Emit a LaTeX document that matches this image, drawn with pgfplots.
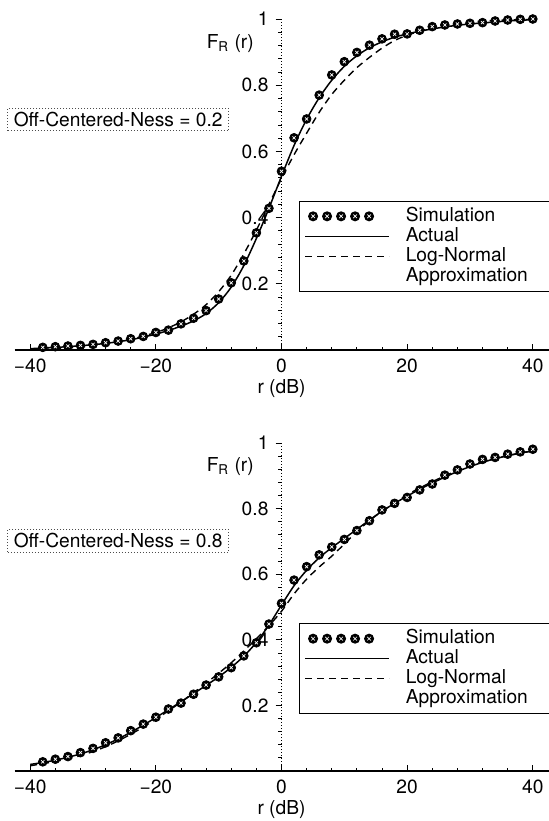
\documentclass[border=0pt]{standalone}
\usepackage{fontspec}
\setmainfont{TeX Gyre Heros}
\usepackage{pgfplots}
\usepackage{pgfplotstable}
\pgfplotsset{compat=1.18}

% ---- top panel (off-centered-ness 0.2) ----
\pgfplotstableread{
x y
-38 0.008
-36 0.010
-34 0.012
-32 0.014
-30 0.017
-28 0.022
-26 0.027
-24 0.034
-22 0.041
-20 0.053
-18 0.060
-16 0.079
-14 0.096
-12 0.119
-10 0.154
-8 0.203
-6 0.269
-4 0.354
-2 0.428
0 0.540
2 0.641
4 0.698
6 0.770
8 0.831
10 0.871
12 0.899
14 0.921
16 0.940
18 0.954
20 0.955
22 0.966
24 0.977
26 0.982
28 0.985
30 0.987
32 0.989
34 0.994
36 0.997
38 0.999
40 1.000
}\topsim

\pgfplotstableread{
x y
-40 0.004
-38 0.006
-36 0.008
-34 0.010
-32 0.013
-30 0.016
-28 0.020
-26 0.025
-24 0.031
-22 0.039
-20 0.048
-18 0.059
-16 0.072
-14 0.088
-12 0.110
-10 0.143
-8 0.190
-6 0.255
-4 0.337
-2 0.428
0 0.525
2 0.618
4 0.697
6 0.762
8 0.815
10 0.857
12 0.889
14 0.913
16 0.931
18 0.945
20 0.955
22 0.963
24 0.970
26 0.976
28 0.981
30 0.985
32 0.988
34 0.991
36 0.994
38 0.996
40 0.998
}\topact

\pgfplotstableread{
x y
-40 0.001
-36 0.004
-32 0.009
-28 0.018
-24 0.032
-20 0.053
-18 0.067
-16 0.085
-14 0.108
-12 0.137
-10 0.176
-8 0.226
-6 0.290
-4 0.362
-2 0.440
0 0.518
2 0.590
4 0.655
6 0.718
8 0.772
10 0.815
12 0.853
14 0.884
16 0.912
18 0.935
20 0.951
22 0.963
24 0.974
28 0.987
32 0.994
36 0.997
40 0.999
}\toplog

% ---- bottom panel (off-centered-ness 0.8) ----
\pgfplotstableread{
x y
-38 0.028
-36 0.036
-34 0.044
-32 0.056
-30 0.069
-28 0.086
-26 0.101
-24 0.123
-22 0.143
-20 0.164
-18 0.189
-16 0.207
-14 0.234
-12 0.262
-10 0.287
-8 0.315
-6 0.351
-4 0.391
-2 0.448
0 0.511
2 0.582
4 0.623
6 0.659
8 0.683
10 0.706
12 0.733
14 0.763
16 0.796
18 0.816
20 0.834
22 0.857
24 0.875
26 0.902
28 0.918
30 0.936
32 0.950
34 0.956
36 0.966
38 0.973
40 0.981
}\botsim

\pgfplotstableread{
x y
-40 0.020
-38 0.026
-36 0.033
-34 0.042
-32 0.052
-30 0.065
-28 0.080
-26 0.098
-24 0.118
-22 0.140
-20 0.163
-18 0.187
-16 0.211
-14 0.236
-12 0.261
-10 0.287
-8 0.316
-6 0.350
-4 0.392
-2 0.445
0 0.506
2 0.565
4 0.612
6 0.650
8 0.681
10 0.709
12 0.737
14 0.765
16 0.792
18 0.816
20 0.838
22 0.859
24 0.878
26 0.896
28 0.913
30 0.928
32 0.941
34 0.952
36 0.961
38 0.969
40 0.976
}\botact

\pgfplotstableread{
x y
-40 0.016
-36 0.029
-32 0.047
-28 0.074
-24 0.112
-20 0.158
-16 0.210
-12 0.268
-10 0.298
-8 0.330
-6 0.366
-4 0.403
-2 0.443
0 0.487
2 0.540
4 0.585
6 0.622
8 0.655
10 0.692
12 0.730
14 0.763
16 0.792
20 0.842
24 0.882
28 0.916
32 0.943
36 0.962
40 0.976
}\botlog

\newcommand{\lbl}{\fontsize{9.6}{11}\selectfont}

\pgfplotsset{
  cdfaxis/.style={
    scale only axis, width=267pt,
    anchor=south west,
    axis lines=middle, axis line style={-},
    x axis line style={line width=0.6pt},
    y axis line style={densely dotted, line width=0.5pt},
    xmin=-42.5, xmax=42.5, ymin=0, ymax=1, enlargelimits=false,
    clip=false,
    xtick={-40,-20,0,20,40}, xticklabels={−40,−20,0,20,40},
    minor x tick num=4,
    ytick={0,0.2,0.4,0.6,0.8,1}, yticklabels={,0.2,0.4,0.6,0.8,1},
    minor y tick num=4,
    hide obscured x ticks=false,
    xtick align=inside, ytick align=outside,
    major tick length=3pt, minor tick length=1.6pt,
    tick style={black, line width=0.4pt},
    every tick label/.append style={font=\lbl},
    xticklabel style={yshift=-1pt},
    xlabel={r (dB)},
    xlabel style={at={(axis description cs:0.5,0)}, anchor=center, yshift=-19.5pt, font=\lbl},
    legend cell align=left,
    legend style={at={(axis cs:2.75,0.451)}, anchor=north west,
      draw=black, line width=0.6pt, font=\lbl,
      inner xsep=2.5pt, inner ysep=2.5pt, row sep=0pt,
      nodes={inner sep=0.5pt, text height=7pt, text depth=2pt},
      /tikz/every odd column/.append style={column sep=7.5pt}},
  },
  simimg/.style={legend image code/.code={
      \path (0pt,0pt) (42pt,0pt);
      \foreach \k in {4,11,18,25,32}{
        \fill[black] (\k pt,0pt) circle (2.2pt);
        \draw[white, line width=0.35pt] (\k pt-0.9pt,-0.9pt)--(\k pt+0.9pt,0.9pt)
          (\k pt-0.9pt,0.9pt)--(\k pt+0.9pt,-0.9pt);}}},
  actimg/.style={legend image code/.code={
      \draw[black, line width=0.7pt] (0pt,0pt) -- (42pt,0pt);}},
  logimg/.style={legend image code/.code={
      \draw[black, line width=0.7pt, dash pattern=on 3.5pt off 2.5pt] (0pt,0pt) -- (42pt,0pt);}},
  actline/.style={black, line width=0.75pt, smooth, no marks, forget plot},
  logline/.style={black, line width=0.7pt, dash pattern=on 3.5pt off 2.5pt, smooth, no marks, forget plot},
  simdot/.style={only marks, mark=*, mark size=2.2pt, mark options={fill=black, draw=black}, forget plot},
  simx/.style={only marks, mark=x, mark size=1.1pt, mark options={white, line width=0.35pt}, forget plot},
}

\begin{document}
\begin{tikzpicture}
\useasboundingbox (0,0) rectangle (274pt,410.5pt);

\begin{axis}[cdfaxis, at={(7.25pt,235.5pt)}, height=165.5pt]
\addplot[logline] table {\toplog};
\addplot[actline] table {\topact};
\addplot[simdot] table {\topsim};
\addplot[simx] table {\topsim};
\addlegendimage{simimg}\addlegendentry{Simulation}
\addlegendimage{actimg}\addlegendentry{Actual}
\addlegendimage{logimg}\addlegendentry{Log-Normal}
\addlegendimage{empty legend}\addlegendentry{Approximation\hspace*{20pt}}
\node[anchor=east, font=\lbl] at (axis cs:-3.3,0.927) {F\textsubscript{R} (r)};
\node[draw=black!70, densely dotted, line width=0.5pt, inner xsep=3pt, inner ysep=2pt, font=\lbl]
  at (axis cs:-26,0.696) {Off-Centered-Ness = 0.2};
\end{axis}

\begin{axis}[cdfaxis, at={(7.25pt,25pt)}, height=164pt]
\addplot[logline] table {\botlog};
\addplot[actline] table {\botact};
\addplot[simdot] table {\botsim};
\addplot[simx] table {\botsim};
\addlegendimage{simimg}\addlegendentry{Simulation}
\addlegendimage{actimg}\addlegendentry{Actual}
\addlegendimage{logimg}\addlegendentry{Log-Normal}
\addlegendimage{empty legend}\addlegendentry{Approximation\hspace*{20pt}}
\node[anchor=east, font=\lbl] at (axis cs:-3.3,0.928) {F\textsubscript{R} (r)};
\node[draw=black!70, densely dotted, line width=0.5pt, inner xsep=3pt, inner ysep=2pt, font=\lbl]
  at (axis cs:-26,0.702) {Off-Centered-Ness = 0.8};
\end{axis}
\end{tikzpicture}
\end{document}
